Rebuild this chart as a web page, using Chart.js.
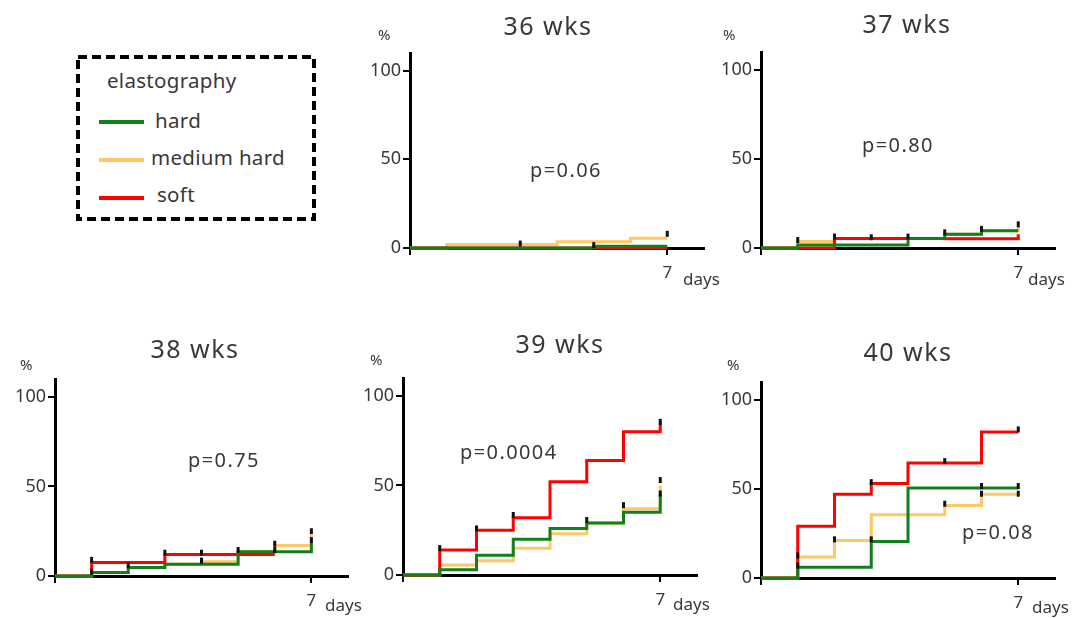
<!DOCTYPE html>
<html>
<head>
<meta charset="utf-8">
<script src="https://cdn.jsdelivr.net/npm/chart.js@4"></script>
<style>
  body { margin: 0; background: #fff; width: 1083px; height: 618px; position: relative; overflow: hidden;
         font-family: "Noto Sans", "DejaVu Sans", sans-serif; color: #383838; }
  canvas { position: absolute; }
  .t { position: absolute; line-height: 1; white-space: nowrap; }
  .ttl { font-size: 25px; letter-spacing: 1.5px; transform: translateX(-50%); }
  .pct { font-size: 15px; }
  .pv { font-size: 20px; letter-spacing: 1.4px; }
  .days { font-size: 17px; }
  #legend { position: absolute; left: 76px; top: 55px; }
  .lg { font-size: 20.5px; letter-spacing: 0.3px; }
  .sw { position: absolute; height: 4px; width: 45px; left: 99px; }
</style>
</head>
<body>

<svg id="legend" width="240" height="166">
  <rect x="2" y="2" width="236" height="162" fill="none" stroke="#000" stroke-width="4" stroke-dasharray="9 5"/>
</svg>
<div class="t lg" style="left:107px;top:70px">elastography</div>
<div class="sw" style="top:120px;background:#12801a"></div>
<div class="t lg" style="left:155px;top:110px">hard</div>
<div class="sw" style="top:158px;background:#ffc864"></div>
<div class="t lg" style="left:151px;top:147px">medium hard</div>
<div class="sw" style="top:196px;background:#ff0000"></div>
<div class="t lg" style="left:157px;top:184px">soft</div>

<canvas id="c36"></canvas>
<canvas id="c37"></canvas>
<canvas id="c38"></canvas>
<canvas id="c39"></canvas>
<canvas id="c40"></canvas>

<div class="t ttl" style="left:548px;top:13px">36 wks</div>
<div class="t ttl" style="left:907px;top:11px">37 wks</div>
<div class="t ttl" style="left:195px;top:336px">38 wks</div>
<div class="t ttl" style="left:560px;top:331px">39 wks</div>
<div class="t ttl" style="left:908px;top:339px">40 wks</div>

<div class="t pct" style="left:378px;top:27px">%</div>
<div class="t pct" style="left:723px;top:27px">%</div>
<div class="t pct" style="left:20px;top:357px">%</div>
<div class="t pct" style="left:370px;top:352px">%</div>
<div class="t pct" style="left:727px;top:357px">%</div>

<div class="t pv" style="left:530px;top:160px">p=0.06</div>
<div class="t pv" style="left:862px;top:135px">p=0.80</div>
<div class="t pv" style="left:188px;top:450px">p=0.75</div>
<div class="t pv" style="left:460px;top:442px">p=0.0004</div>
<div class="t pv" style="left:962px;top:522px">p=0.08</div>

<div class="t days" style="left:683px;top:270px">days</div>
<div class="t days" style="left:1028px;top:270px">days</div>
<div class="t days" style="left:325px;top:596px">days</div>
<div class="t days" style="left:673px;top:595px">days</div>
<div class="t days" style="left:1032px;top:598px">days</div>

<script>
// day index; value k = level held from day k to k+1, last = value at day 7
var days = [0, 1, 2, 3, 4, 5, 6, 7];
var xTicks = [0, 7];
var yTicks = [0, 50, 100];

var hard36   = [0, 0, 0, 0, 0, 1, 1, 1];
var medium36 = [0, 2, 2, 2, 3.5, 3.5, 5.5, 5.5];
var soft36   = [0, 0, 0, 0, 0, 0, 0, 0];
var censor36 = [[3, 2.5], [5, 1.6], [7, 8]];

var hard37   = [0, 1.7, 1.7, 1.7, 5.4, 7.7, 9.7, 9.7];
var medium37 = [0, 3.6, 5.4, 5.4, 5.4, 7.7, 9.7, 12];
var soft37   = [0, 0, 5.4, 5.4, 5.4, 5.2, 5.2, 7.7];
var censor37 = [[1, 4.5], [2, 6.4], [3, 6], [4, 6.4], [5, 8.8], [6, 10.7], [7, 13.3]];

var hard38   = [0, 2, 4.8, 6.5, 6.5, 13.6, 13.6, 19];
var medium38 = [0, 2, 4.8, 6.5, 8, 13.6, 17, 23];
var soft38   = [0, 7.6, 7.6, 12, 12, 12, 12, null];
var censor38 = [[1, 9], [1, 2.4], [2, 6], [3, 13], [4, 13], [4, 8.6], [5, 14.5], [6, 18], [6, 14.5], [7, 25], [7, 20]];

var hard39   = [0, 3, 11, 20, 26, 29, 35, 45];
var medium39 = [0, 5.6, 8, 15, 23, 29, 37, 50];
var soft39   = [0, 14, 25, 32, 52, 64, 80, 85];
var censor39 = [[1, 15], [2, 26], [3, 33.5], [5, 30.7], [6, 39], [7, 85.5], [7, 53], [7, 45.5]];

var hard40   = [0, 6, 6, 20.5, 50.5, 50.5, 50.5, 50.5];
var medium40 = [0, 11.8, 21, 35.5, 35.5, 40.7, 47, 47];
var soft40   = [0, 29, 47, 53, 64.5, 64.5, 82, 82];
var censor40 = [[1, 12.7], [1, 7], [2, 21.7], [3, 53.8], [3, 21.7], [5, 65.6], [5, 41.7], [6, 51.6], [6, 47.3], [7, 83.4], [7, 51.6], [7, 47.3]];

var GREEN = '#12801a', ORANGE = '#ffc864', RED = '#ff0000';

function stepLine(vals, color) {
  return {
    data: days.map(function (d, i) { return { x: d, y: vals[i] }; }),
    borderColor: color, borderWidth: 3, stepped: true, pointRadius: 0,
    fill: false, spanGaps: false, clip: false, borderJoinStyle: 'miter'
  };
}

function axis(min, max, ticks, fit, label, fontSize, pad) {
  return {
    type: 'linear', min: min, max: max,
    afterBuildTicks: function (s) { s.ticks = ticks.map(function (v) { return { value: v }; }); },
    afterFit: fit,
    ticks: { color: '#383838', font: { size: fontSize, family: 'Noto Sans' }, padding: pad,
             callback: label, maxRotation: 0, autoSkip: false },
    grid: { drawOnChartArea: false, drawTicks: true, tickLength: 7, color: '#000', lineWidth: 2 },
    border: { color: '#000', width: 3 }
  };
}

// L,R,T,B = plot area in page pixels
function makePanel(id, box, hard, medium, soft, censor) {
  var L = box[0], R = box[1], T = box[2], B = box[3];
  var cv = document.getElementById(id);
  cv.width = R - L + 80; cv.height = B - T + 100;
  cv.style.left = (L - 60) + 'px'; cv.style.top = (T - 60) + 'px';
  new Chart(cv.getContext('2d'), {
    type: 'line',
    data: {
      datasets: [
        {
          data: censor.map(function (c) { return { x: c[0], y: c[1] }; }),
          showLine: false, pointStyle: 'line', rotation: 90, pointRadius: 3,
          pointBorderWidth: 3, pointBorderColor: '#111', clip: false
        },
        stepLine(hard, GREEN),
        stepLine(soft, RED),
        stepLine(medium, ORANGE)
      ]
    },
    options: {
      responsive: false, animation: false,
      layout: { padding: { left: 0, top: 60, right: 20, bottom: 0 } },
      plugins: { legend: { display: false }, tooltip: { enabled: false } },
      scales: {
        x: axis(0, 8, xTicks, function (s) { s.height = 40; },
                function (v) { return v === 7 ? '7' : ''; }, 17, 8),
        y: axis(0, 110, yTicks, function (s) { s.width = 60; },
                function (v) { return String(v); }, 18, 2)
      }
    }
  });
}

makePanel('c36', [410, 704, 53, 248], hard36, medium36, soft36, censor36);
makePanel('c37', [761, 1055, 52, 248], hard37, medium37, soft37, censor37);
makePanel('c38', [55, 348, 379, 576], hard38, medium38, soft38, censor38);
makePanel('c39', [403, 697, 378, 575], hard39, medium39, soft39, censor39);
makePanel('c40', [761, 1055, 382, 578], hard40, medium40, soft40, censor40);
</script>
</body>
</html>
